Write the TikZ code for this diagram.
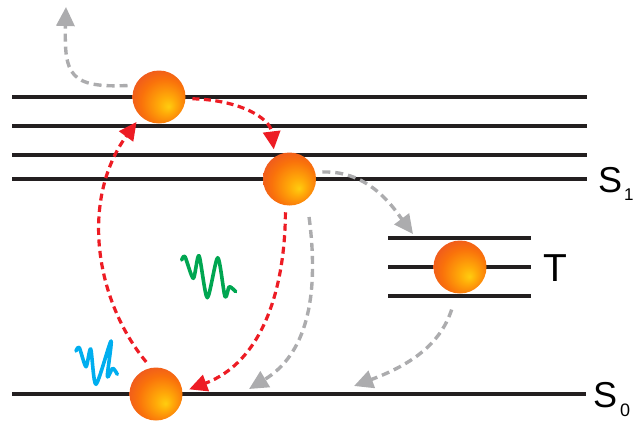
\documentclass[tikz,border=0pt]{standalone}
\usepackage{fontspec}
\setmainfont{Liberation Sans}
\usetikzlibrary{arrows.meta}
\definecolor{ballred}{RGB}{236,82,36}
\definecolor{ballyel}{RGB}{255,205,15}
\definecolor{arrred}{RGB}{237,28,36}
\definecolor{arrgray}{RGB}{172,172,174}
\definecolor{wgreen}{RGB}{0,166,81}
\definecolor{wblue}{RGB}{0,174,239}
\definecolor{lvl}{RGB}{35,31,32}
\pgfdeclareradialshading{orangeball}{\pgfpoint{9bp}{-9bp}}{color(0bp)=(ballyel); color(8bp)=(ballyel!55!orange); color(22bp)=(orange!70!ballred); color(34bp)=(ballred); color(50bp)=(ballred)}
\tikzset{
  level/.style={draw=lvl, line width=3.2pt},
  ball/.style={circle, minimum size=53pt, inner sep=0pt, outer sep=7pt, shade, shading=orangeball},
  redarr/.style={draw=arrred, line width=3.2pt, dash pattern=on 7pt off 4.5pt, -{Triangle[length=18pt,width=17pt]}},
  grayarr/.style={draw=arrgray, line width=3.4pt, dash pattern=on 8pt off 5pt, -{Triangle[length=19pt,width=18pt]}},
  wave/.style={line width=3.6pt, line cap=round, line join=round},
  lab/.style={inner sep=0pt, anchor=base west}
}
\begin{document}
\begin{tikzpicture}[x=1pt,y=-1pt]
\useasboundingbox (0,0) rectangle (634,421);
% S1 levels
\draw[level] (12,97) -- (587,97);
\draw[level] (12,126) -- (587,126);
\draw[level] (12,155) -- (587,155);
\draw[level] (12,179) -- (587,179);
% S0 level
\draw[level] (12,394) -- (586,394);
% T levels
\draw[level] (388,238) -- (531,238);
\draw[level] (388,267) -- (531,267);
\draw[level] (388,296) -- (531,296);
% labels
\node[lab, font=\fontsize{36}{40}\selectfont] (s1) at (598,192.5) {S\kern2pt\raisebox{-8pt}{\fontsize{17}{17}\selectfont 1}};
\node[lab, font=\fontsize{36}{40}\selectfont] (s0) at (593,407.5) {S\kern3pt\raisebox{-9pt}{\fontsize{18}{18}\selectfont 0}};
\node[lab, font=\fontsize{39}{44}\selectfont] (tl) at (543,281.5) {T};
% balls
\node[ball] (a) at (159,97) {};
\node[ball] (b) at (289.5,179) {};
\node[ball] (c) at (156,394) {};
\node[ball] (t) at (460,267) {};
% free ends
\coordinate (g1) at (66,7);
\coordinate (g2) at (413,234);
\coordinate (g3) at (249,389);
\coordinate (g4) at (354,386);
% red arrows
\draw[redarr] (c.107) .. controls (95,300) and (80,200) .. (a.228);
\draw[redarr] (a.-3) .. controls (240,100) and (270,118) .. (b.118);
\draw[redarr] (b.-97) .. controls (285,290) and (262,362) .. (c.8);
% gray arrows
\draw[grayarr] (a.160) .. controls (70,88) and (64,75) .. (g1);
\draw[grayarr] (b.12) .. controls (370,170) and (395,210) .. (g2);
\draw[grayarr, shorten <=10pt] (b.-57) .. controls (320,300) and (305,355) .. (g3);
\draw[grayarr, shorten <=10pt] (t.-99) .. controls (440,345) and (410,365) .. (g4);
% light waves
\draw[wave, draw=wgreen] plot[smooth, tension=0.45] coordinates {(181.7,260) (185,256.7) (193.3,278.3) (199,255.7) (207.3,297.7) (217.7,257.7) (225,296.7) (229.3,286.7) (235.7,291.7)};
\draw[wave, draw=wblue] plot[smooth, tension=0.45] coordinates {(76,351) (79.3,347.7) (86,366.7) (90.7,349) (96,384.3) (111,341) (107.3,376.7) (112.7,368.3) (117.3,374.3)};
\end{tikzpicture}
\end{document}
